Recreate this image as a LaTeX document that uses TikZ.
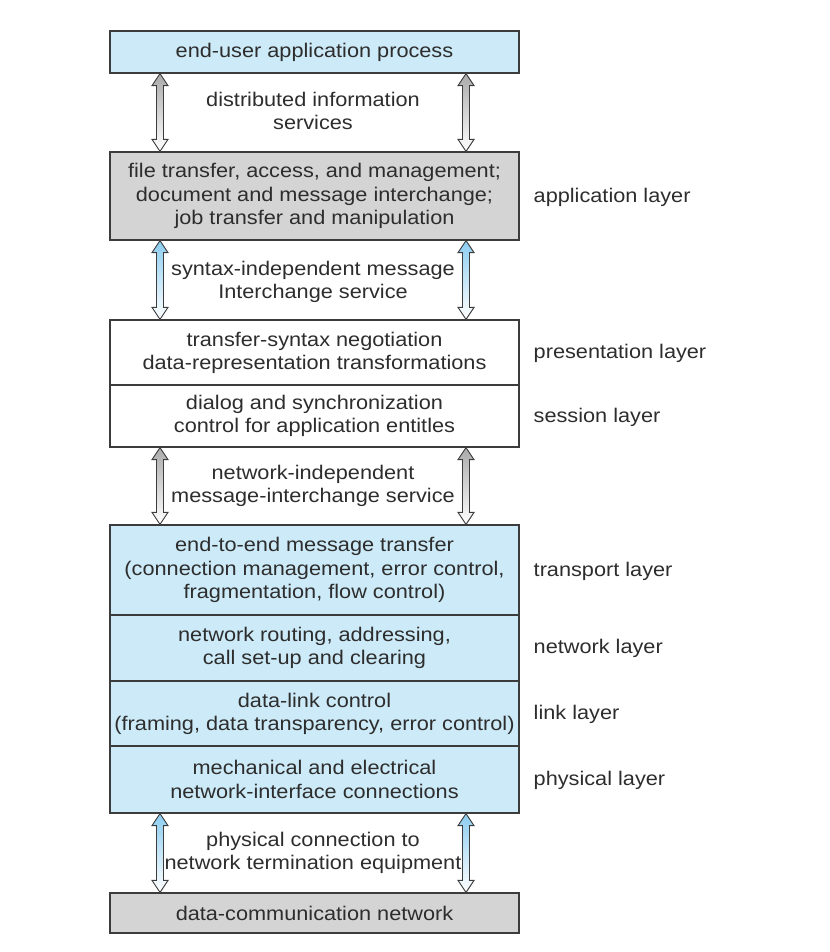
\documentclass[tikz,border=0pt]{standalone}
\usepackage{fontspec}
\setmainfont{Liberation Sans}[FakeStretch=1.1]
\usetikzlibrary{calc}
\definecolor{boxblue}{RGB}{204,234,247}
\definecolor{boxgray}{RGB}{212,212,212}
\definecolor{arrowgray}{RGB}{170,170,170}
\definecolor{arrowblue}{RGB}{140,205,240}
\definecolor{linegray}{RGB}{60,60,60}
\definecolor{textgray}{RGB}{45,45,45}
\tikzset{
  layer/.style={draw=linegray, line width=0.9pt, minimum width=306.75pt, inner sep=0pt,
    align=center, text=textgray, font=\fontsize{14.8}{17.4}\selectfont},
  service/.style={align=center, text=textgray, font=\fontsize{14.8}{17.4}\selectfont},
  side/.style={anchor=west, text=textgray, font=\fontsize{14.8}{17.4}\selectfont}
}
% fat double arrow from (#1) down to (#2)
\newcommand{\fatarrow}[3]{%
  \path[draw=linegray, line width=0.7pt, top color=#3, bottom color=white]
    (#1) -- ($(#1)+(8,12)$) -- ($(#1)+(3.5,12)$) -- ($(#2)+(3.5,-12)$)
    -- ($(#2)+(8,-12)$) -- (#2) -- ($(#2)+(-8,-12)$) -- ($(#2)+(-3.5,-12)$)
    -- ($(#1)+(-3.5,12)$) -- ($(#1)+(-8,12)$) -- cycle;}
\begin{document}
\begin{tikzpicture}[x=0.75pt,y=-0.75pt]
  \useasboundingbox (0,0) rectangle (830,952);
  \coordinate (lx) at (160,0);
  \coordinate (rx) at (466,0);
  % the layer boxes
  \node[layer, fill=boxblue, minimum height=31.5pt] (user) at (314.5,52) {end-user application process};
  \node[layer, fill=boxgray, minimum height=66pt] (app) at (314.5,196) {file transfer, access, and management;\\document and message interchange;\\job transfer and manipulation};
  \node[layer, fill=white, minimum height=48.75pt] (pres) at (314.5,352.5) {transfer-syntax negotiation\\data-representation transformations};
  \node[layer, fill=white, minimum height=46.5pt] (sess) at (314.5,416) {dialog and synchronization\\control for application entitles};
  \node[layer, fill=boxblue, minimum height=67.5pt] (trans) at (314.5,570) {end-to-end message transfer\\(connection management, error control,\\fragmentation, flow control)};
  \node[layer, fill=boxblue, minimum height=49.5pt] (net) at (314.5,648) {network routing, addressing,\\call set-up and clearing};
  \node[layer, fill=boxblue, minimum height=48.75pt] (link) at (314.5,713.5) {data-link control\\(framing, data transparency, error control)};
  \node[layer, fill=boxblue, minimum height=50.25pt] (phys) at (314.5,779.5) {mechanical and electrical\\network-interface connections};
  \node[layer, fill=boxgray, minimum height=30pt] (dcn) at (314.5,913) {data-communication network};
  % arrows between the boxes
  \foreach \s/\t/\c in {user/app/arrowgray, app/pres/arrowblue, sess/trans/arrowgray, phys/dcn/arrowblue}
    \foreach \x in {lx,rx} {
      \coordinate (A) at (\s.south -| \x);
      \coordinate (B) at (\t.north -| \x);
      \fatarrow{A}{B}{\c}
    }
  % services
  \node[service] (s1) at (313,111) {distributed information\\services};
  \node[service] (s2) at (313,282) {syntax-independent message\\Interchange service};
  \node[service] (s3) at (313,486) {network-independent\\message-interchange service};
  \node[service] (s4) at (313,853) {physical connection to\\network termination equipment};
  % layer names
  \node[side] (lapp) at (529,197) {application layer};
  \node[side] (lpres) at (529,353) {presentation layer};
  \node[side] (lsess) at (529,417) {session layer};
  \node[side] (ltrans) at (529,571) {transport layer};
  \node[side] (lnet) at (529,648) {network layer};
  \node[side] (llink) at (529,714) {link layer};
  \node[side] (lphys) at (529,780) {physical layer};
\end{tikzpicture}
\end{document}
